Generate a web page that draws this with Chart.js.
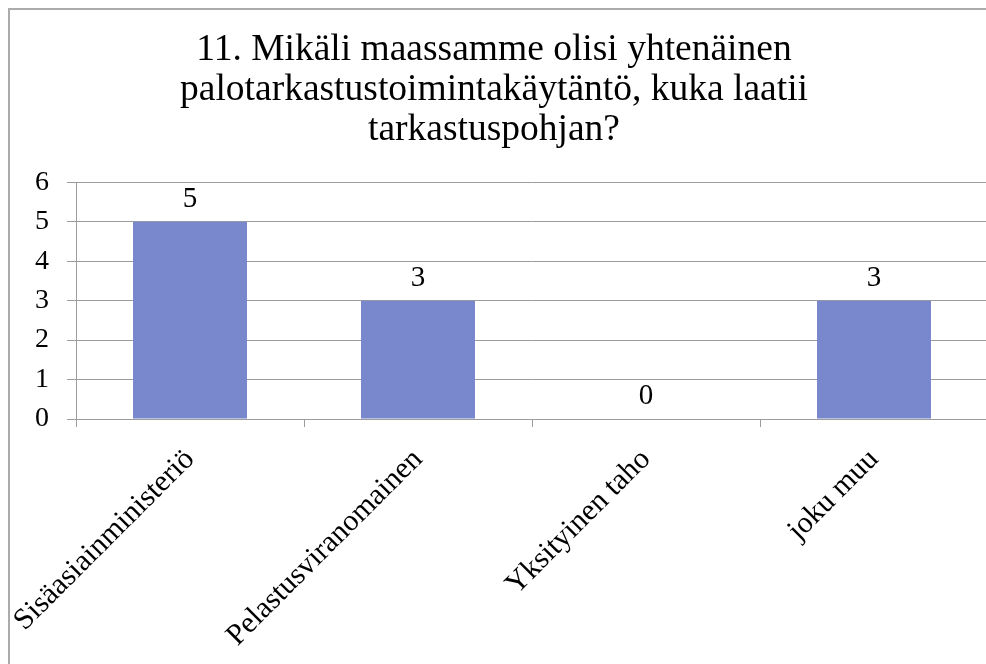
<!DOCTYPE html>
<html>
<head>
<meta charset="utf-8">
<script src="https://cdn.jsdelivr.net/npm/chart.js@4"></script>
<style>
  html, body { margin: 0; padding: 0; background: #fff; overflow: hidden; }
  #wrap { position: relative; width: 986px; height: 664px; overflow: hidden; }
  #chart { position: absolute; left: 0; top: 0; }
</style>
</head>
<body>
<div id="wrap">
  <canvas id="chart" width="988" height="664" style="width:988px;height:664px"></canvas>
</div>
<script>
const titleLines = ['11. Mikäli maassamme olisi yhtenäinen', 'palotarkastustoimintakäytäntö, kuka laatii', 'tarkastuspohjan?'];
const categories = ['Sisäasiainministeriö', 'Pelastusviranomainen', 'Yksityinen taho', 'joku muu'];
const answers = [5, 3, 0, 3];
const yTicks = [0, 1, 2, 3, 4, 5, 6];

const SERIF = "'Liberation Serif', 'Times New Roman', serif";
const GRID = '#9c9c9c';

// values above the bars, plus the clipped outer frame (left and top edge only)
const valueLabels = {
  id: 'valueLabels',
  beforeDraw(chart) {
    const ctx = chart.ctx;
    ctx.save();
    ctx.strokeStyle = '#ababab';
    ctx.lineWidth = 2;
    ctx.beginPath();
    ctx.moveTo(9, chart.height);
    ctx.lineTo(9, 9);
    ctx.lineTo(chart.width, 9);
    ctx.stroke();
    ctx.restore();
  },
  afterDatasetsDraw(chart) {
    const ctx = chart.ctx;
    const meta = chart.getDatasetMeta(0);
    ctx.save();
    ctx.font = '29px ' + SERIF;
    ctx.fillStyle = '#000';
    ctx.textAlign = 'center';
    ctx.textBaseline = 'alphabetic';
    meta.data.forEach((bar, i) => {
      ctx.fillText(String(answers[i]), bar.x, bar.y - 15);
    });
    ctx.restore();
  }
};

new Chart('chart', {
  type: 'bar',
  data: {
    labels: categories,
    datasets: [{
      data: answers,
      backgroundColor: '#7988cc',
      borderWidth: 0,
      barPercentage: 0.5,
      categoryPercentage: 1
    }]
  },
  options: {
    responsive: false,
    animation: false,
    layout: { padding: 0 },
    plugins: {
      legend: { display: false },
      tooltip: { enabled: false },
      title: {
        display: true,
        text: titleLines,
        color: '#000',
        font: { family: SERIF, size: 37.5, weight: 'normal', lineHeight: 1.07 },
        padding: { top: 30, bottom: 32 }
      }
    },
    scales: {
      x: {
        offset: true,
        grid: { drawOnChartArea: false, offset: true, tickLength: 8, color: GRID },
        border: { color: GRID, width: 1 },
        ticks: {
          minRotation: 45, maxRotation: 45, color: '#000', padding: 15,
          font: { family: SERIF, size: 30 }
        },
        afterFit(scale) {
          scale.height = 245;
          scale.paddingLeft = 0;
          scale.paddingRight = 0;
        }
      },
      y: {
        min: 0, max: 6,
        afterBuildTicks(scale) { scale.ticks = yTicks.map(v => ({ value: v })); },
        grid: { color: GRID, tickLength: 9 },
        border: { color: GRID, width: 1 },
        ticks: { color: '#000', padding: 18, font: { family: SERIF, size: 28 } },
        afterFit(scale) { scale.width = 76; }
      }
    }
  },
  plugins: [valueLabels]
});
</script>
</body>
</html>
